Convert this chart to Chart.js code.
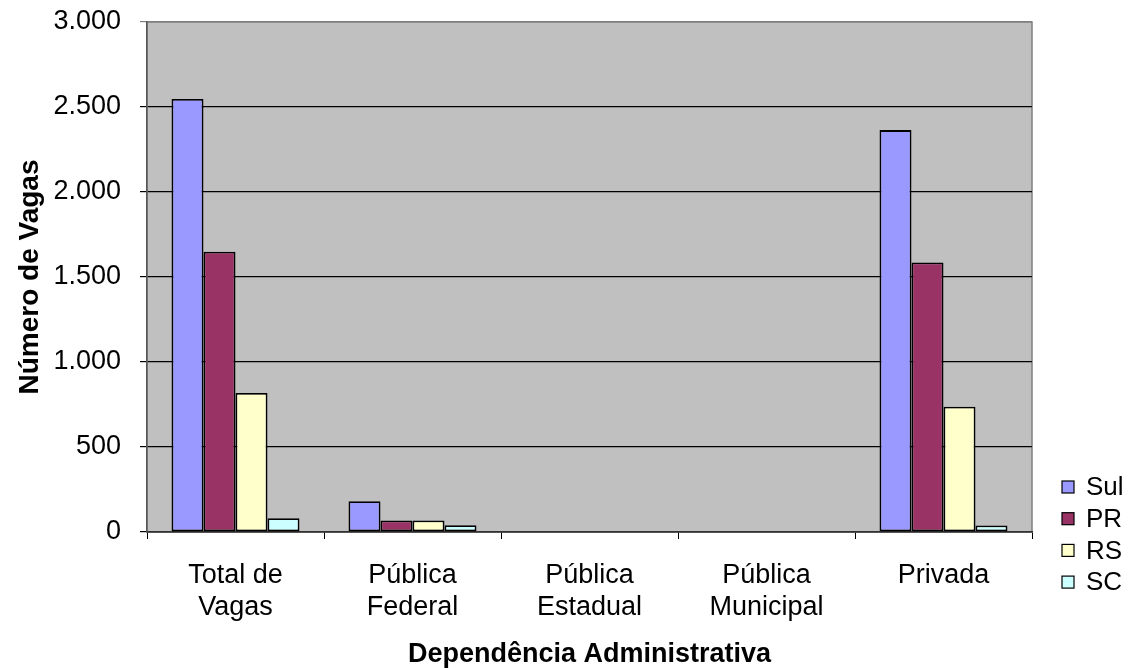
<!DOCTYPE html>
<html>
<head>
<meta charset="utf-8">
<script src="https://cdn.jsdelivr.net/npm/chart.js@4.4.1/dist/chart.umd.min.js"></script>
<style>
html,body{margin:0;padding:0;background:#fff;}
#wrap{width:1133px;height:668px;position:relative;}
</style>
</head>
<body>
<div id="wrap"><canvas id="c" width="1133" height="668"></canvas></div>
<script>
const categories = [["Total de","Vagas"],["Pública","Federal"],["Pública","Estadual"],["Pública","Municipal"],["Privada"]];
const seriesNames = ["Sul","PR","RS","SC"];
const sulValues = [2547, 181, 0, 0, 2364];
const prValues  = [1649, 68, 0, 0, 1586];
const rsValues  = [818, 68, 0, 0, 737];
const scValues  = [81, 40, 0, 0, 38];
const seriesColors = ["#9999FF","#993366","#FFFFCC","#CCFFFF"];
const yTicks = [0, 500, 1000, 1500, 2000, 2500, 3000];

const FONT = "'Liberation Sans', Arial, Helvetica, sans-serif";

function fmt(v){ return String(v).replace(/\B(?=(\d{3})+(?!\d))/g, "."); }

const plotBg = {
  id: 'plotBg',
  beforeDraw(chart){
    const {ctx, chartArea:a} = chart;
    ctx.save();
    ctx.fillStyle = '#C0C0C0';
    ctx.fillRect(a.left, a.top, a.right - a.left, a.bottom - a.top);
    ctx.strokeStyle = '#808080';
    ctx.lineWidth = 1.5;
    ctx.strokeRect(a.left, a.top, a.right - a.left, a.bottom - a.top);
    ctx.restore();
  }
};

const sideLegend = {
  id: 'sideLegend',
  afterDraw(chart){
    const ctx = chart.ctx;
    const x0 = 1062, y0 = 487, step = 31.7, box = 12;
    ctx.save();
    ctx.font = "26px " + FONT;
    ctx.textBaseline = 'middle';
    ctx.textAlign = 'left';
    chart.data.datasets.forEach((ds, i) => {
      const cy = y0 + i * step;
      ctx.fillStyle = ds.backgroundColor;
      ctx.fillRect(x0, cy - box/2, box, box);
      ctx.strokeStyle = '#000';
      ctx.lineWidth = 1.2;
      ctx.strokeRect(x0, cy - box/2, box, box);
      ctx.fillStyle = '#000';
      ctx.fillText(ds.label, x0 + 24, cy + 1);
    });
    ctx.restore();
  }
};

const valueSets = [sulValues, prValues, rsValues, scValues];

new Chart(document.getElementById('c'), {
  type: 'bar',
  data: {
    labels: categories,
    datasets: seriesNames.map((n, i) => ({
      label: n,
      data: valueSets[i],
      backgroundColor: seriesColors[i],
      borderColor: '#000',
      borderWidth: 1.8,
      borderSkipped: false,
      categoryPercentage: 0.723,
      barPercentage: 1.0
    }))
  },
  options: {
    responsive: false,
    animation: false,
    devicePixelRatio: 1,
    layout: { padding: { top: 22, right: 101, left: 0, bottom: 0 } },
    plugins: {
      legend: { display: false },
      tooltip: { enabled: false }
    },
    scales: {
      x: {
        offset: true,
        grid: { offset: true, drawOnChartArea: false, drawTicks: true, tickLength: 7, color: '#000', lineWidth: 1 },
        border: { display: true, color: '#333', width: 1.5 },
        ticks: { color: '#000', font: { family: FONT, size: 27, lineHeight: 1.19 }, padding: 20, maxRotation: 0, autoSkip: false },
        title: { display: true, text: 'Dependência Administrativa', color: '#000', font: { family: FONT, size: 27, weight: 'bold', lineHeight: 1.0 }, padding: { top: 0, bottom: 0 } },
        afterFit(s){ s.height = 136; }
      },
      y: {
        min: 0, max: 3000,
        afterBuildTicks(s){ s.ticks = yTicks.map(v => ({ value: v })); },
        grid: {
          drawOnChartArea: true, drawTicks: true, tickLength: 7,
          color: (c) => (c.tick && c.tick.value === 3000) ? '#808080' : '#000',
          lineWidth: 1.2
        },
        border: { display: true, color: '#555', width: 1.5 },
        ticks: { color: '#000', font: { family: FONT, size: 27 }, padding: 19, callback: (v) => fmt(v) },
        title: { display: true, text: 'Número de Vagas', color: '#000', font: { family: FONT, size: 28, weight: 'bold', lineHeight: 1.2 }, padding: { top: 13, bottom: 0 } },
        afterFit(s){ s.width = 147; s.paddingTop = 0; s.paddingBottom = 0; }
      }
    }
  },
  plugins: [plotBg, sideLegend]
});
</script>
</body>
</html>
